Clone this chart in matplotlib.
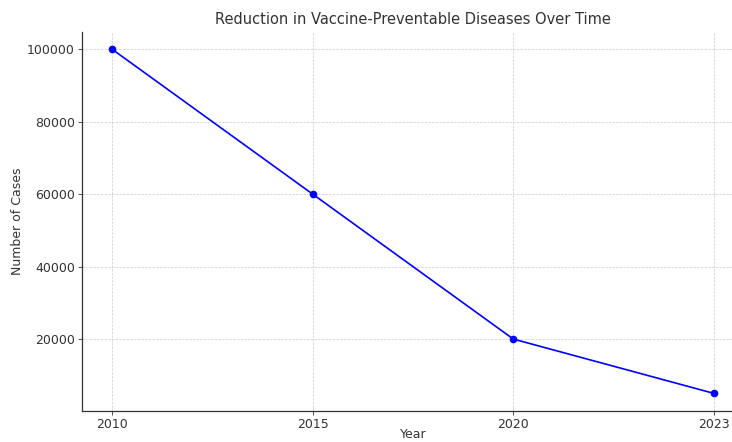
import matplotlib
matplotlib.use('Agg')
import matplotlib.pyplot as plt

# 年ごとの症例数（x軸はカテゴリとして等間隔に並べる）
years = ['2010', '2015', '2020', '2023']
cases = [100000, 60000, 20000, 5000]

plt.rcParams['font.family'] = ['DejaVu Sans']
plt.rcParams['text.color'] = '#333333'
plt.rcParams['axes.labelcolor'] = '#333333'
plt.rcParams['xtick.color'] = '#333333'
plt.rcParams['ytick.color'] = '#333333'

fig = plt.figure(figsize=(7.32, 4.42), dpi=100)
ax = fig.add_axes([0.112, 0.071, 0.9044, 0.8566])

ax.plot(years, cases, color='blue', marker='o', markersize=4.5, linewidth=1.2)

ax.set_title('Reduction in Vaccine-Preventable Diseases Over Time', fontsize=10.5, pad=6)
ax.set_xlabel('Year', fontsize=9, labelpad=-1.5)
ax.set_ylabel('Number of Cases', fontsize=9, labelpad=2)
ax.tick_params(labelsize=9, length=3, width=0.6, pad=2)

ax.grid(True, linestyle='--', linewidth=0.5, color='#cccccc')
for side in ['top', 'right']:
    ax.spines[side].set_visible(False)
for side in ['left', 'bottom']:
    ax.spines[side].set_color('#333333')
    ax.spines[side].set_linewidth(0.9)

fig.savefig('out.png', dpi=100)
